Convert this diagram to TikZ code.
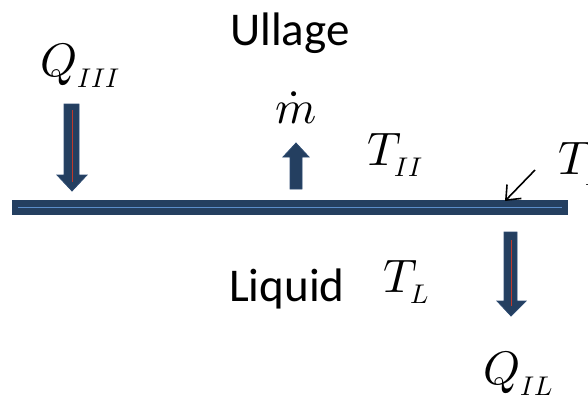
\documentclass[tikz,border=0pt]{standalone}
\usepackage{fontspec}
\usepackage{unicode-math}
\setmainfont{Carlito}
\setmathfont{Latin Modern Math}
\DeclareMathSizes{47}{47}{27}{20}
\usetikzlibrary{arrows.meta}
\definecolor{navy}{HTML}{243F60}
\definecolor{navyedge}{HTML}{2C4A70}
\definecolor{lineblue}{HTML}{5B8DC9}
\definecolor{redline}{HTML}{C0392B}
\tikzset{
  lbl/.style={inner sep=0pt, anchor=base west, font=\fontsize{47}{56}\selectfont},
  fatarrow/.style={fill=navy, draw=navyedge, line width=0.8pt, line join=miter},
  redcore/.style={draw=redline, line width=0.9pt},
  pointer/.style={draw=black, line width=1.6pt, -{Straight Barb[length=12pt,width=20pt,line width=1.6pt]}}
}
\begin{document}
\begin{tikzpicture}[x=1pt,y=-1pt]
\useasboundingbox (0,0) rectangle (588,394);
% labels
\node[lbl] (ullage) at (230,45) {Ullage};
\node[lbl] (liquid) at (229,301) {Liquid};
\node[lbl] (q3) at (40,76) {$Q_{III}$};
\node[lbl] (mdot) at (275,123) {$\dot m$};
\node[lbl] (tii) at (367,165) {$T_{II}$};
\node[lbl] (ti) at (558,174) {$T_{I}$};
\node[lbl] (tl) at (383,292) {$T_{L}$};
\node[lbl] (qil) at (483,384) {$Q_{IL}$};
% interface bar
\fill[navy] (12,200) rectangle (568,215);
\draw[lineblue, line width=1.6pt] (18,207.5) -- (562,207.5);
% Q_III arrow (down)
\draw[fatarrow] (64,104) -- (79,104) -- (79,175) -- (87,175) -- (72,191) -- (57,175) -- (64,175) -- cycle;
\draw[redcore] (72,110) -- (72,182);
% mdot arrow (up)
\draw[fatarrow] (290,189) -- (302,189) -- (302,157) -- (309,157) -- (296,143) -- (283,157) -- (290,157) -- cycle;
% Q_IL arrow (down)
\draw[fatarrow] (504,232) -- (517,232) -- (517,301) -- (526,301) -- (511,316) -- (497,301) -- (504,301) -- cycle;
\draw[redcore] (511,240) -- (511,306);
% pointer to interface
\coordinate (ps) at (535,170);
\coordinate (pt) at (505,201);
\draw[pointer] (ps) -- (pt);
\end{tikzpicture}
\end{document}
